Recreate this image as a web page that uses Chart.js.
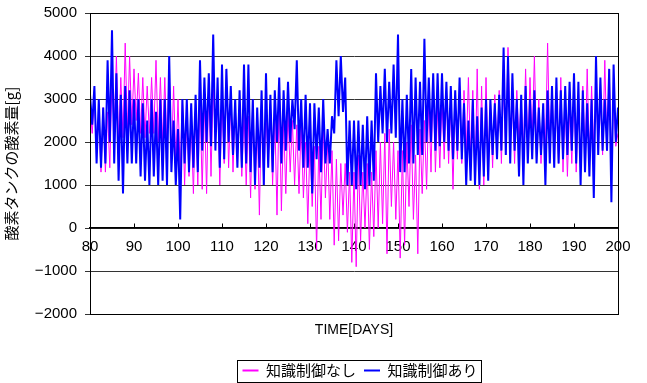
<!DOCTYPE html>
<html>
<head>
<meta charset="utf-8">
<script src="https://cdn.jsdelivr.net/npm/chart.js@4"></script>
<style>
  html, body { margin: 0; padding: 0; background: #fff; }
  #wrap { width: 647px; height: 383px; }
</style>
</head>
<body>
<div id="wrap"><canvas id="chart" width="647" height="383"></canvas></div>
<script>
// 知識制御なし (magenta) - half-day samples from day 80 to 200
const magentaVals = [
  2800, 2200, 3000, 2000, 2500, 1300, 2800, 1300, 2700, 1400, 3500, 2200, 4000, 2000, 3500, 2100, 4300, 2200, 4000, 2400,
  3700, 2500, 3600, 2200, 3500, 2100, 3300, 2200, 3500, 2200, 3900, 2000, 3500, 2000, 3500, 1800, 3800, 1500, 3300, 1500,
  3000, 1300, 3000, 1000, 2600, 1200, 2500, 800, 2800, 1000, 3000, 900, 3000, 800, 3500, 1200, 3300, 2000, 3000, 1000,
  3000, 1500, 3700, 1400, 3000, 1300, 2800, 1700, 2900, 1200, 2700, 1000, 2600, 700, 3000, 900, 2600, 300, 3000, 1000,
  2700, 1500, 2900, 1000, 2600, 300, 3100, 400, 2500, 800, 2700, 1300, 2500, 1000, 2400, 800, 2500, 700, 2000, 100,
  2000, 500, 1900, -500, 1900, 200, 2500, 700, 2000, 200, 1800, -400, 1600, -300, 1500, 300, 1500, -100, 1300, -800,
  1300, -900, 1700, -300, 1300, 0, 1500, -500, 1300, -200, 1800, 0, 2000, 100, 2200, -600, 2300, 500, 2000, 200,
  1800, -700, 1800, -400, 2000, 500, 2400, 200, 1700, -600, 2300, 800, 2500, 900, 3000, 1300, 3500, 1300, 2800, 1400,
  3000, 1600, 3200, 1500, 2900, 900, 3000, 1600, 3300, 1500, 3200, 1700, 3500, 1600, 3200, 1000, 3700, 900, 3300, 1000,
  3500, 1500, 3000, 1400, 3100, 1800, 3200, 1500, 3400, 1700, 4200, 2000, 3000, 1500, 3200, 2000, 3000, 1700, 3700, 1800,
  3500, 2000, 4000, 1700, 3000, 1500, 2800, 1800, 4300, 1800, 3300, 1600, 2900, 1500, 3500, 1300, 3000, 1200, 2800, 1500,
  3200, 1300, 2900, 1400, 3300, 1500, 3700, 1600, 3300, 1800, 3200, 2000, 3000, 1700, 3900, 1800, 3700, 1500, 3000, 1900,
  2200
];

// 知識制御あり (blue)
const blueVals = [
  3100, 2400, 3300, 1500, 3000, 1400, 2800, 1500, 3900, 2000, 4600, 1500, 3600, 1100, 3100, 800, 3300, 1500, 3200, 1500,
  3000, 1500, 3000, 1200, 2900, 1100, 2500, 1000, 3000, 1200, 2700, 1000, 3000, 1100, 3000, 1000, 4000, 1300, 2500, 1000,
  2300, 200, 3000, 1500, 3000, 1300, 2900, 1400, 3100, 1300, 3900, 1800, 3500, 2000, 3600, 1900, 4500, 1800, 3500, 1400,
  3800, 1600, 3700, 2000, 3300, 1700, 3000, 1400, 3200, 1400, 3800, 1500, 3800, 1300, 3000, 1000, 2800, 1400, 3200, 1000,
  3600, 1400, 3100, 1300, 3200, 2000, 3500, 1500, 3200, 1800, 3400, 2000, 3000, 2300, 3900, 1800, 3000, 1400, 3100, 1400,
  2900, 800, 2900, 1600, 2800, 1300, 3000, 1500, 2300, 1500, 2600, 2200, 3900, 2600, 4000, 2700, 3500, 1000, 2500, 1000,
  2500, 900, 2500, 1000, 2400, 900, 2600, 1000, 2500, 1100, 3600, 2000, 3300, 2200, 3700, 2000, 3400, 2200, 3800, 2100,
  4500, 1300, 3000, 1300, 3100, 1500, 3700, 1500, 3500, 1700, 3400, 1700, 4400, 2000, 3500, 2000, 3600, 1800, 3600, 1900,
  3600, 2000, 3400, 1800, 3300, 1600, 3200, 1800, 3500, 1600, 2900, 1000, 2500, 1100, 3000, 1000, 2600, 1000, 2800, 1200,
  3000, 1100, 3000, 1700, 2900, 1600, 3100, 1800, 4200, 1700, 4000, 1500, 3600, 1800, 3000, 1200, 3100, 1000, 3300, 1500,
  3000, 1600, 3200, 1500, 2800, 1700, 2900, 1000, 3200, 1500, 3300, 1400, 3500, 1500, 3200, 1600, 3300, 1700, 3400, 1800,
  3600, 1500, 3400, 1000, 3200, 1300, 2900, 1200, 3000, 700, 4000, 1700, 3500, 1800, 3000, 1800, 3700, 600, 3800, 2000,
  2800
];

const startDay = 80;
const stepDay = 0.5;
const xTicks = [80, 90, 100, 110, 120, 130, 140, 150, 160, 170, 180, 190, 200];
const yTicks = [-2000, -1000, 0, 1000, 2000, 3000, 4000, 5000];

const toPoints = vals => vals.map((v, i) => ({ x: startDay + i * stepDay, y: v }));

const tickFont = { family: '"Liberation Sans", Arial, sans-serif', size: 15 };
const jpFont = { family: '"Noto Sans CJK JP", sans-serif', size: 15 };
const legendShiftX = 50;
const legendShiftY = 5;
const legendPad = 8;

// frame around plot area + legend border, legend moved under the plot
const framePlugin = {
  id: 'frame',
  afterLayout(chart) {
    const lg = chart.legend;
    lg.left += legendShiftX;
    lg.right += legendShiftX;
    lg.top += legendShiftY;
    lg.bottom += legendShiftY;
    (lg.legendHitBoxes || []).forEach(b => { b.left += legendShiftX; });
  },
  afterDraw(chart) {
    const ctx = chart.ctx;
    const a = chart.chartArea;
    ctx.save();
    ctx.strokeStyle = '#000';
    ctx.lineWidth = 1;
    ctx.strokeRect(Math.round(a.left) + 0.5, Math.round(a.top) + 0.5, Math.round(a.right - a.left), Math.round(a.bottom - a.top));
    const lg = chart.legend;
    const hb = lg.legendHitBoxes;
    if (hb && hb.length) {
      const l = Math.min(...hb.map(b => b.left)) - 5;
      const r = Math.max(...hb.map(b => b.left + b.width)) + 4;
      const mid = lg.top + legendPad + hb[0].height / 2;
      ctx.strokeRect(Math.round(l) + 0.5, Math.round(mid - 11) + 0.5, Math.round(r - l), 22);
    }
    ctx.restore();
  }
};

new Chart(document.getElementById('chart'), {
  type: 'line',
  data: {
    datasets: [{
      label: '知識制御なし',
      data: toPoints(magentaVals),
      borderColor: '#ff00ff',
      backgroundColor: '#ff00ff',
      borderWidth: 1,
      pointRadius: 0,
      order: 1
    }, {
      label: '知識制御あり',
      data: toPoints(blueVals),
      borderColor: '#0000ff',
      backgroundColor: '#0000ff',
      borderWidth: 2,
      pointRadius: 0,
      order: 0
    }]
  },
  options: {
    responsive: false,
    animation: false,
    layout: { padding: { top: 13, right: 29, left: 2, bottom: 0 } },
    plugins: {
      legend: {
        position: 'bottom',
        labels: {
          font: jpFont,
          color: '#000',
          usePointStyle: true,
          pointStyle: 'line',
          pointStyleWidth: 16,
          boxHeight: 14,
          padding: legendPad,
          sort: (a, b) => a.datasetIndex - b.datasetIndex,
          generateLabels: chart => Chart.defaults.plugins.legend.labels.generateLabels(chart)
            .map(item => Object.assign(item, { lineWidth: 2 }))
        }
      },
      tooltip: { enabled: false }
    },
    scales: {
      x: {
        type: 'linear',
        min: 80,
        max: 200,
        position: { y: 0 },
        afterBuildTicks: s => { s.ticks = xTicks.map(v => ({ value: v })); },
        ticks: { font: tickFont, color: '#000', padding: 15, maxRotation: 0 },
        grid: { drawOnChartArea: false, tickLength: -5, color: '#000' },
        border: { color: '#000', width: 1.5 }
      },
      x2: {
        type: 'linear',
        min: 80,
        max: 200,
        position: 'bottom',
        ticks: { display: false },
        grid: { display: false },
        border: { display: false },
        title: { display: true, text: 'TIME[DAYS]', font: { family: '"Liberation Sans", Arial, sans-serif', size: 14 }, color: '#000', padding: { top: 0, bottom: 11 } },
        afterFit: s => { s.height = 36; }
      },
      y: {
        min: -2000,
        max: 5000,
        afterBuildTicks: s => { s.ticks = yTicks.map(v => ({ value: v })); },
        ticks: { font: tickFont, color: '#000', padding: 8, callback: v => String(v).replace('-', '\u2212') },
        grid: { color: '#333', lineWidth: 1, tickLength: 5 },
        border: { color: '#000' },
        title: { display: true, text: '酸素タンクの酸素量[g]', font: jpFont, color: '#000', padding: 0 },
        afterFit: s => { s.width = 88; s.paddingTop = 0; s.paddingBottom = 0; }
      }
    }
  },
  plugins: [framePlugin]
});
</script>
</body>
</html>
